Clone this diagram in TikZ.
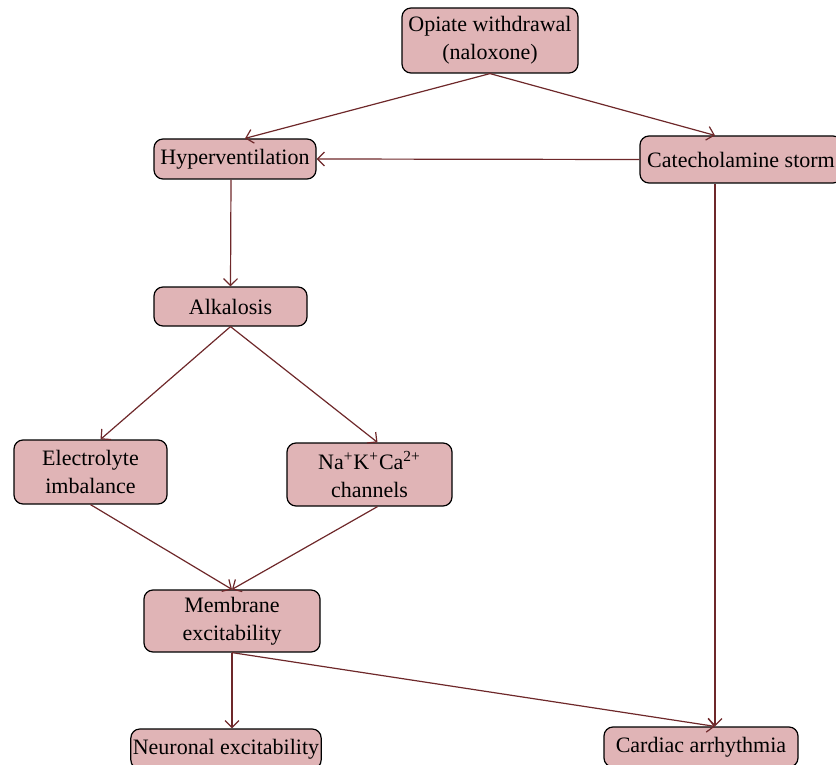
\documentclass[tikz,border=0pt]{standalone}
\usepackage{fontspec}
\setmainfont{Liberation Serif}
\usetikzlibrary{arrows.meta}
\definecolor{boxpink}{RGB}{224,180,182}
\definecolor{linkred}{RGB}{110,40,42}

\begin{document}
\begin{tikzpicture}[> = {Straight Barb[length=3.5pt,width=7pt]}, % arrow head style
                x = 0.5pt, y = -0.5pt, % pixel grid, y runs down
                line width = 0.6pt % line style
            ]

            \tikzstyle{every node}=[draw = black, fill = boxpink, rectangle,
            rounded corners = 4.5pt, align = center, inner sep = 1pt,
            font = \fontsize{11}{14}\selectfont]

            \useasboundingbox (0,0) rectangle (836,765);

            \node (1) [minimum width=88pt, minimum height=32.5pt] at (490,40.5)
            {Opiate withdrawal\\(naloxone)}; \node (2) [minimum width=81pt,
            minimum height=20pt] at (235,159) {Hyperventilation}; \node (3)
            [minimum width=101pt, minimum height=23.5pt] at (741,159.5)
            {Catecholamine storm}; \node (4) [minimum width=76.5pt, minimum
            height=19.5pt] at (230.5,306.5) {Alkalosis}; \node (5) [minimum
            width=76.5pt, minimum height=32pt] at (90.5,472)
            {Electrolyte\\imbalance}; \node (6) [minimum width=82.5pt, minimum
            height=31.5pt] at (369.5,474.5)
            {Na\textsuperscript{+}K\textsuperscript{+}Ca\textsuperscript{2+}\\channels};
            \node (7) [minimum width=88pt, minimum height=31pt] at (232,621)
            {Membrane\\excitability}; \node (8) [minimum width=92pt, minimum
            height=20pt] at (226,749) {Neuronal excitability}; \node (9)
            [minimum width=97pt, minimum height=20pt] at (701,747) {Cardiac
            arrhythmia};


            \path[->, linkred] (1.south) edge ([xshift=5pt]2.north); \path[->,
            linkred] (1.south) edge ([xshift=-13pt]3.north); \path[->,
            linkred] (3.west) edge (2.east); \path[->, linkred]
            ([xshift=-2pt]2.south) edge (4.north); \path[->, linkred] (4.south)
            edge ([xshift=5pt]5.north); \path[->, linkred] (4.south) edge
            ([xshift=4pt]6.north); \path[->, linkred] (5.south) edge (7.north);
            \path[->, linkred] ([xshift=4pt]6.south) edge (7.north); \path[->,
            linkred] (7.south) edge ([xshift=3pt]8.north); \path[->, linkred]
            (7.south) edge ([xshift=7pt]9.north); \path[->, linkred]
            ([xshift=-13pt]3.south) edge ([xshift=7pt]9.north); \end{tikzpicture}
\end{document}
